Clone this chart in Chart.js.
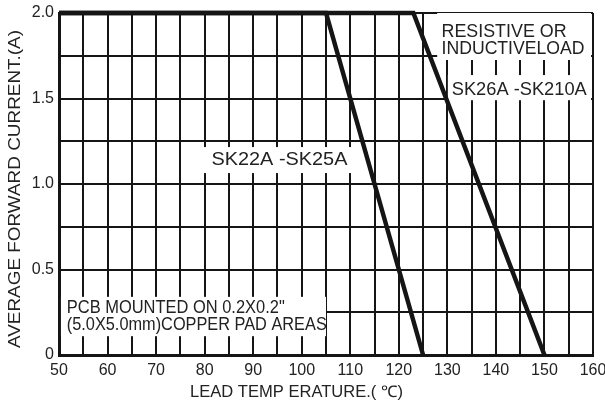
<!DOCTYPE html>
<html>
<head>
<meta charset="utf-8">
<script src="https://cdn.jsdelivr.net/npm/chart.js@4.4.0/dist/chart.umd.min.js"></script>
<style>
    html, body { margin: 0; padding: 0; background: #fff; }
    #wrap { width: 605px; height: 406px; }
</style>
</head>
<body>
<div id="wrap"><canvas id="grafico-derating" width="605" height="406"></canvas></div>
<script>
// Dados
const tempSK22 = [50, 105, 125];
const correnteSK22 = [2.0, 2.0, 0];
const tempSK26 = [50, 123, 150];
const correnteSK26 = [2.0, 2.0, 0];

const valoresTickX = [50, 60, 70, 80, 90, 100, 110, 120, 130, 140, 150, 160];
const rotulosX = ['50', '60', '70', '80', '90', '100', '110', '120', '130', '140', '150', '160'];
const valoresTickY = [0, 0.5, 1.0, 1.5, 2.0];
const rotulosY = ['0', '0.5', '1.0', '1.5', '2.0'];

const tituloX = 'LEAD TEMP ERATURE.( \u2103)';
const tituloY = 'AVERAGE FORWARD CURRENT.(A)';

const textoSK22 = ['SK22A -SK25A'];
const textoSK26 = ['SK26A -SK210A'];
const textoCarga = ['RESISTIVE OR', 'INDUCTIVELOAD'];
const textoPCB = ['PCB MOUNTED ON 0.2X0.2"', '(5.0X5.0mm)COPPER PAD AREAS'];

const corTraco = '#151515';
const corTexto = '#222';
const fonte = '"Liberation Sans", Arial, sans-serif';

function pontos(xs, ys) {
    return xs.map((x, i) => ({ x, y: ys[i] }));
}

function rotulo(valores, rotulos, v) {
    const i = valores.findIndex(t => Math.abs(t - v) < 1e-6);
    return i >= 0 ? rotulos[i] : '';
}

// texto esticado na horizontal até a largura pedida
function textoLargo(ctx, t, x, y, largura, rot) {
    const w = ctx.measureText(t).width;
    ctx.save();
    ctx.translate(x, y);
    if (rot) ctx.rotate(rot);
    ctx.scale(largura / w, 1);
    ctx.fillText(t, 0, 0);
    ctx.restore();
}

// caixas brancas com texto por cima da grade (em coordenadas do gráfico)
const notas = [
    { linhas: textoPCB, caixa: [50.4, 105, 0.34, 0.11], x: 51.6, ys: [0.278, 0.175], larguras: [218, 260] },
    { linhas: textoSK22, caixa: [78.2, 110.2, 1.216, 1.064], x: 81.4, ys: [1.14], larguras: [136] },
    { linhas: textoCarga, caixa: [127.9, 159.6, 2.0, 1.725], x: 128.8, ys: [1.89, 1.79], larguras: [125, 143] },
    { linhas: textoSK26, caixa: [130.1, 159.6, 1.637, 1.49], x: 130.9, ys: [1.553], larguras: [135] }
];

const pluginNotas = {
    id: 'notas',
    beforeDatasetsDraw(chart) {
        const { ctx, scales: { x, y } } = chart;
        ctx.save();
        notas.forEach(n => {
            const [x0, x1, y0, y1] = n.caixa;
            const px0 = x.getPixelForValue(x0);
            const px1 = x.getPixelForValue(x1);
            const py0 = y.getPixelForValue(y0);
            const py1 = y.getPixelForValue(y1);
            ctx.fillStyle = '#fff';
            ctx.fillRect(px0, py0, px1 - px0, py1 - py0);

            ctx.fillStyle = corTexto;
            ctx.font = '18.5px ' + fonte;
            ctx.textBaseline = 'middle';
            ctx.textAlign = 'left';
            n.linhas.forEach((t, i) => {
                textoLargo(ctx, t, x.getPixelForValue(n.x), y.getPixelForValue(n.ys[i]), n.larguras[i]);
            });
        });
        ctx.restore();
    },
    afterDraw(chart) {
        const { ctx } = chart;
        ctx.save();
        ctx.fillStyle = corTexto;
        ctx.textBaseline = 'middle';
        ctx.textAlign = 'left';
        ctx.font = '16px ' + fonte;
        textoLargo(ctx, tituloX, 190, 393, 213);
        ctx.font = '17px ' + fonte;
        textoLargo(ctx, tituloY, 15, 348, 318, -Math.PI / 2);
        ctx.restore();
    }
};

const ctx = document.getElementById('grafico-derating').getContext('2d');

new Chart(ctx, {
    type: 'line',
    data: {
        datasets: [
            {
                label: 'SK22A-SK25A',
                data: pontos(tempSK22, correnteSK22),
                borderColor: corTraco,
                borderWidth: 4.5,
                pointRadius: 0,
                fill: false,
                tension: 0,
                clip: 6
            },
            {
                label: 'SK26A-SK210A',
                data: pontos(tempSK26, correnteSK26),
                borderColor: corTraco,
                borderWidth: 4.5,
                pointRadius: 0,
                fill: false,
                tension: 0,
                clip: 6
            }
        ]
    },
    options: {
        responsive: false,
        animation: false,
        layout: { autoPadding: false, padding: { top: 13, right: 12, left: 0, bottom: 0 } },
        plugins: {
            legend: { display: false },
            tooltip: { enabled: false }
        },
        scales: {
            x: {
                type: 'linear',
                min: 50,
                max: 160,
                afterFit: s => { s.height = 51; s.paddingLeft = 0; s.paddingRight = 0; },
                grid: { color: corTraco, lineWidth: 2, drawTicks: false },
                border: { color: corTraco, width: 3 },
                ticks: {
                    stepSize: 5,
                    autoSkip: false,
                    maxRotation: 0,
                    padding: 6,
                    color: corTexto,
                    font: { family: fonte, size: 16 },
                    callback: v => rotulo(valoresTickX, rotulosX, v)
                }
            },
            y: {
                min: 0,
                max: 2,
                afterFit: s => { s.width = 59; s.paddingTop = 0; s.paddingBottom = 0; },
                grid: { color: corTraco, lineWidth: 2, drawTicks: false },
                border: { color: corTraco, width: 3 },
                ticks: {
                    stepSize: 0.25,
                    autoSkip: false,
                    padding: 5,
                    color: corTexto,
                    font: { family: fonte, size: 16 },
                    callback: v => rotulo(valoresTickY, rotulosY, v)
                }
            }
        }
    },
    plugins: [pluginNotas]
});
</script>
</body>
</html>
